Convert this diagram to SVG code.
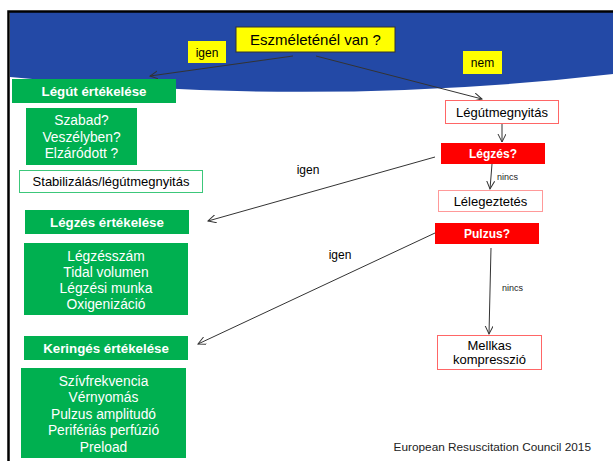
<svg xmlns="http://www.w3.org/2000/svg" width="613" height="461" viewBox="0 0 613 461">
<defs>
<style>
text{font-family:"Liberation Sans",Arial,sans-serif;}
.g{fill:#00B050;}
.gt{fill:#fff;font-size:13.3px;font-weight:bold;text-anchor:middle;}
.rt{fill:#fff;font-size:12px;font-weight:bold;text-anchor:middle;}
.gl{fill:#fff;font-size:13.8px;text-anchor:middle;}
.y{fill:#FFFF00;}
.r{fill:#FF0000;}
.rb{fill:#fff;stroke:#FF6666;stroke-width:1;}
.bt{fill:#000;font-size:13px;text-anchor:middle;}
.conn line{stroke:#333;stroke-width:1;fill:none;}
.lab{font-size:12px;fill:#000;}
.sm{font-size:9px;fill:#222;}
</style>
<marker id="ah" markerWidth="10" markerHeight="10" refX="8" refY="4" orient="auto" markerUnits="userSpaceOnUse">
<path d="M0,0 L8,4 L0,8" fill="none" stroke="#333" stroke-width="1"/>
</marker>
</defs>
<rect width="613" height="461" fill="#fff"/>
<path d="M10,12 L613,12 L613,74 Q320,108 10,77 Z" fill="#2349A6"/>
<path d="M8.5,461 L8.5,11.5 L613,11.5" fill="none" stroke="#000" stroke-width="2.5"/>

<g class="conn">
<line x1="293" y1="56" x2="150" y2="76" marker-end="url(#ah)"/>
<line x1="316" y1="56" x2="482" y2="99" marker-end="url(#ah)"/>
<line x1="502" y1="124" x2="502" y2="142" marker-end="url(#ah)"/>
<line x1="492" y1="164" x2="490" y2="189" marker-end="url(#ah)"/>
<line x1="435" y1="157" x2="208" y2="221" marker-end="url(#ah)"/>
<line x1="435" y1="233" x2="198" y2="344" marker-end="url(#ah)"/>
<line x1="491" y1="248" x2="489" y2="334" marker-end="url(#ah)"/>
</g>

<g id="eszmeletenel">
<rect x="236" y="27" width="159" height="25" class="y" stroke="#333" stroke-width="1"/>
<text x="315.5" y="45" font-size="15" text-anchor="middle" fill="#000">Eszméleténél van ?</text>
</g>
<g id="igen1">
<rect x="188" y="41" width="38" height="22" class="y"/>
<text x="207" y="57" class="lab" text-anchor="middle">igen</text>
</g>
<g id="nem">
<rect x="463" y="51" width="39" height="23" class="y"/>
<text x="482.5" y="67" class="lab" text-anchor="middle">nem</text>
</g>

<g id="legut-ertekelese">
<rect x="12" y="79" width="164" height="24" class="g"/>
<text x="94" y="96" class="gt">Légút értékelése</text>
</g>
<g id="szabad">
<rect x="26" y="108" width="111" height="57" class="g"/>
<text x="81.5" y="125" class="gl">Szabad?</text>
<text x="81.5" y="141.5" class="gl">Veszélyben?</text>
<text x="81.5" y="157.5" class="gl">Elzáródott ?</text>
</g>
<g id="stabilizalas">
<rect x="19.5" y="170.5" width="183" height="22" fill="#fff" stroke="#3CC77A" stroke-width="1"/>
<text x="111" y="186" class="bt">Stabilizálás/légútmegnyitás</text>
</g>
<g id="legzes-ertekelese">
<rect x="25" y="210" width="164" height="24" class="g"/>
<text x="107" y="227" class="gt">Légzés értékelése</text>
</g>
<g id="legzesszam">
<rect x="24" y="243" width="164" height="72" class="g"/>
<text x="106" y="261" class="gl">Légzésszám</text>
<text x="106" y="277" class="gl">Tidal volumen</text>
<text x="106" y="293" class="gl">Légzési munka</text>
<text x="106" y="309" class="gl">Oxigenizáció</text>
</g>
<g id="keringes-ertekelese">
<rect x="24" y="336" width="164" height="24" class="g"/>
<text x="106" y="353" class="gt">Keringés értékelése</text>
</g>
<g id="szivfrekvencia">
<rect x="21" y="368" width="165" height="90" class="g"/>
<text x="103.5" y="386" class="gl">Szívfrekvencia</text>
<text x="103.5" y="402" class="gl">Vérnyomás</text>
<text x="103.5" y="418.5" class="gl">Pulzus amplitudó</text>
<text x="103.5" y="435" class="gl">Perifériás perfúzió</text>
<text x="103.5" y="451.5" class="gl">Preload</text>
</g>

<g id="legutmegnyitas">
<rect x="445.5" y="100.5" width="113" height="23" class="rb"/>
<text x="502" y="117" class="bt" font-size="13.3">Légútmegnyitás</text>
</g>
<g id="legzes">
<rect x="441" y="143" width="104" height="21" class="r"/>
<text x="493" y="158" class="rt">Légzés?</text>
</g>
<text x="497" y="180" class="sm">nincs</text>
<g id="lelegeztetes">
<rect x="438.5" y="190.5" width="104" height="21" fill="#fff" stroke="#FF9999" stroke-width="1"/>
<text x="490.5" y="205.5" class="bt" font-size="12">Lélegeztetés</text>
</g>
<g id="pulzus">
<rect x="435" y="223" width="104" height="21" class="r"/>
<text x="487" y="238" class="rt">Pulzus?</text>
</g>
<text x="502" y="291" class="sm">nincs</text>
<g id="mellkas">
<rect x="437.5" y="335.5" width="104" height="34" class="rb"/>
<text x="489.5" y="350" class="bt" font-size="12">Mellkas</text>
<text x="489.5" y="363.5" class="bt" font-size="12">kompresszió</text>
</g>

<text x="308" y="174" class="lab" text-anchor="middle">igen</text>
<text x="340" y="259" class="lab" text-anchor="middle">igen</text>
<text x="591" y="451" font-size="11.8" text-anchor="end" fill="#222">European Resuscitation Council 2015</text>
</svg>
